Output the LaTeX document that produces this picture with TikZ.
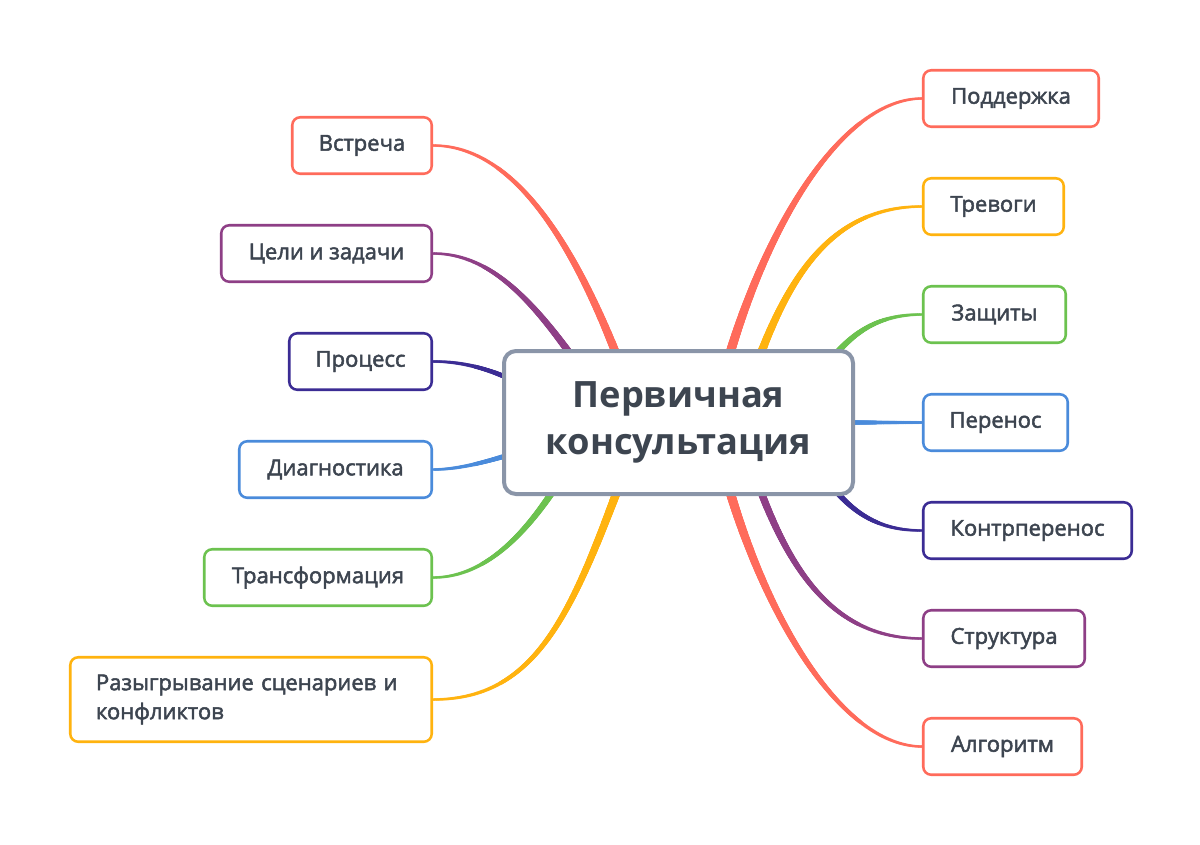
\documentclass[tikz,border=0pt]{standalone}
\usepackage{fontspec}
\setmainfont{Open Sans}
\newfontfamily\leaffont{Open Sans}[FakeBold=2.2]
\usetikzlibrary{decorations.markings,calc}
\definecolor{cred}{HTML}{FF6B5B}
\definecolor{cyel}{HTML}{FFB30F}
\definecolor{cgrn}{HTML}{6CC24F}
\definecolor{cblu}{HTML}{4A8BDB}
\definecolor{cind}{HTML}{3B2C94}
\definecolor{cpur}{HTML}{8E3F86}
\definecolor{cgry}{HTML}{8A95A8}
\definecolor{ctxt}{HTML}{3D4550}
\pgfdeclarelayer{bg}
\pgfsetlayers{bg,main}
\tikzset{
  tapered/.style n args={3}{
    decoration={markings,
      mark=between positions 0 and 1 step 0.5pt with {
        \pgfmathsetmacro\trad{#1+(#2-#1)*\pgfkeysvalueof{/pgf/decoration/mark info/distance from start}/\pgfdecoratedpathlength}
        \fill[#3] (0,0) circle[radius=\trad pt];
      }},
    decorate},
  leaf/.style={draw, line width=1.9pt, fill=white, rounded corners=6pt,
    minimum height=56.5*0.75pt, inner sep=0pt, text=ctxt,
    font=\leaffont\fontsize{16.5}{21.75}\selectfont},
  hub/.style={draw=cgry, line width=3pt, fill=white, rounded corners=9pt,
    minimum width=349*0.75pt, minimum height=143*0.75pt, align=center,
    text=ctxt, inner sep=0pt, font=\bfseries\fontsize{27.2}{35}\selectfont}
}
\begin{document}
\begin{tikzpicture}[x=0.75pt,y=-0.75pt]
\begin{pgfonlayer}{bg}
\fill[white] (0,0) rectangle (1200,844);
\end{pgfonlayer}
\useasboundingbox (0,0) rectangle (1200,844);

\node[hub] (c) at (678.5,422.5) {Первичная\\консультация};

% left
\node[leaf, draw=cred, minimum width=139.5*0.75pt] (vstr) at (362,145.5) {Встреча};
\node[leaf, draw=cpur, minimum width=210.5*0.75pt] (celi) at (326.5,253.5) {Цели и задачи};
\node[leaf, draw=cind, minimum width=142.5*0.75pt] (proc) at (360.5,361.5) {Процесс};
\node[leaf, draw=cblu, minimum width=192.5*0.75pt] (diag) at (335.5,469.5) {Диагностика};
\node[leaf, draw=cgrn, minimum width=227.5*0.75pt] (trans) at (318,577.5) {Трансформация};
\node[leaf, draw=cyel, minimum width=361.5*0.75pt, minimum height=84.5*0.75pt,
  text width=232.5pt, align=left] (razy) at (251,699.5) {\mbox{Разыгрывание сценариев и}\\конфликтов};

% right
\node[leaf, draw=cred, minimum width=175.5*0.75pt] (sup) at (1011,98.5) {Поддержка};
\node[leaf, draw=cyel, minimum width=140.5*0.75pt] (trev) at (993.5,206.5) {Тревоги};
\node[leaf, draw=cgrn, minimum width=142.5*0.75pt] (zasch) at (994.5,314.5) {Защиты};
\node[leaf, draw=cblu, minimum width=144.5*0.75pt] (pern) at (995.5,422.5) {Перенос};
\node[leaf, draw=cind, minimum width=208.5*0.75pt] (kontr) at (1027.5,530.5) {Контрперенос};
\node[leaf, draw=cpur, minimum width=161.5*0.75pt] (strukt) at (1004,638.5) {Структура};
\node[leaf, draw=cred, minimum width=158.5*0.75pt] (alg) at (1002.5,746.5) {Алгоритм};

\begin{pgfonlayer}{bg}
% right branches
\path[tapered={3.75}{0.95}{cred}] ($(c.center)+(41.5,-33.5)$) .. controls (761,229) and (842,98.5) .. (sup.west);
\path[tapered={3.4}{0.95}{cyel}] ($(c.center)+(71.5,-38.5)$) .. controls (785,279) and (830,206.5) .. (trev.west);
\path[tapered={2.8}{0.95}{cgrn}] ($(c.center)+(141.5,-47.5)$) .. controls (850,330) and (880,314.5) .. (zasch.west);
\path[tapered={1.8}{1.1}{cblu}] ($(c.center)+(161.5,0)$) -- (pern.west);
\path[tapered={2.5}{0.95}{cind}] ($(c.center)+(141.5,47.5)$) .. controls (850,515) and (880,530.5) .. (kontr.west);
\path[tapered={3.1}{0.95}{cpur}] ($(c.center)+(71.5,38.5)$) .. controls (785,566) and (830,638.5) .. (strukt.west);
\path[tapered={3.75}{0.95}{cred}] ($(c.center)+(41.5,33.5)$) .. controls (761,616) and (842,746.5) .. (alg.west);
% left branches
\path[tapered={3.4}{0.95}{cred}] ($(c.center)+(-50.5,-37.5)$) .. controls (582,259) and (520,145.5) .. (vstr.east);
\path[tapered={3.0}{0.95}{cpur}] ($(c.center)+(-93.5,-47.5)$) .. controls (533,299) and (490,253.5) .. (celi.east);
\path[tapered={2.0}{1.0}{cind}] ($(c.center)+(-163.5,-41.5)$) .. controls (480,365) and (455,361.5) .. (proc.east);
\path[tapered={2.0}{1.0}{cblu}] ($(c.center)+(-163.5,30.5)$) .. controls (480,464) and (455,469.5) .. (diag.east);
\path[tapered={2.8}{0.95}{cgrn}] ($(c.center)+(-113.5,49.5)$) .. controls (523,542) and (480,577.5) .. (trans.east);
\path[tapered={3.4}{0.95}{cyel}] ($(c.center)+(-50.5,39.5)$) .. controls (574,607) and (540,699.5) .. (razy.east);
\end{pgfonlayer}
\end{tikzpicture}
\end{document}
